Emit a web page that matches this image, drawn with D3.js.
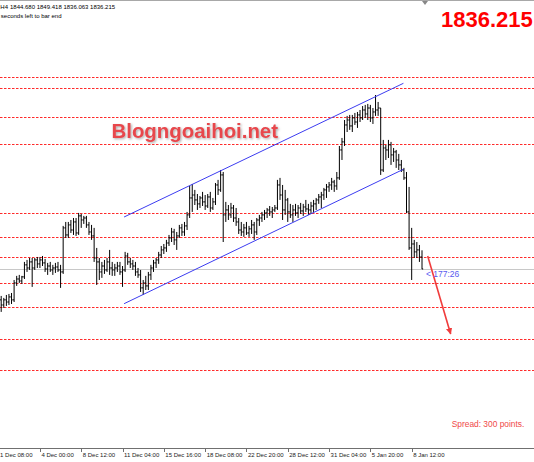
<!DOCTYPE html>
<html><head><meta charset="utf-8">
<script src="https://cdn.jsdelivr.net/npm/d3@7"></script>
<style>html,body{margin:0;padding:0;background:#fff;overflow:hidden}</style>
</head><body>
<svg id="c" width="534" height="462"></svg>
<script>
const open = [1814.3,1810.7,1814.3,1812.8,1816.4,1814.3,1826.3,1829.1,1827.7,1830.6,1839.1,1836.9,1841.2,1836.9,1842.6,1839.8,1842.6,1840.5,1836.2,1838.3,1835.5,1836.9,1837.6,1835.5,1834.1,1865.3,1860.3,1867.4,1863.8,1869.5,1861.7,1873.8,1870.9,1872.3,1867.4,1862.4,1859.6,1844.0,1841.2,1834.1,1838.3,1835.5,1841.2,1836.9,1835.5,1836.9,1838.3,1834.1,1835.5,1845.4,1841.2,1839.8,1838.3,1834.1,1832.0,1822.8,1826.3,1824.2,1832.0,1836.9,1840.5,1842.6,1846.1,1849.7,1851.1,1854.6,1858.2,1862.4,1856.8,1859.6,1865.3,1862.4,1866.7,1874.5,1886.5,1888.6,1885.1,1882.3,1886.5,1883.7,1880.8,1887.2,1879.4,1883.7,1895.7,1892.2,1902.8,1874.5,1878.0,1874.5,1879.4,1872.3,1869.5,1863.8,1862.4,1865.3,1861.7,1864.6,1867.4,1862.4,1870.9,1872.3,1874.5,1875.9,1878.0,1876.6,1878.0,1879.4,1895.7,1888.6,1878.0,1885.1,1876.6,1874.5,1878.0,1875.9,1879.4,1877.3,1880.1,1878.7,1878.0,1880.8,1882.3,1885.1,1887.2,1888.6,1892.2,1894.3,1895.7,1897.8,1895.0,1900.7,1920.5,1926.2,1938.2,1941.7,1937.5,1943.2,1940.3,1945.3,1943.2,1948.8,1946.0,1950.2,1943.2,1947.4,1948.8,1950.2,1906.3,1921.9,1920.5,1924.1,1917.0,1919.1,1913.4,1909.9,1906.3,1900.7,1876.6,1851.1,1853.9,1848.3,1849.7,1844.680];
const high = [1817.1,1815.7,1817.8,1818.5,1819.2,1828.4,1831.3,1832.0,1831.3,1841.2,1842.6,1844.0,1844.0,1844.0,1844.7,1844.7,1845.4,1843.3,1840.5,1841.2,1839.1,1840.5,1841.2,1839.1,1866.7,1869.5,1869.5,1870.9,1872.3,1872.3,1875.9,1875.2,1873.8,1873.8,1869.5,1867.4,1865.3,1851.1,1844.0,1841.2,1842.6,1844.0,1849.7,1841.2,1839.8,1841.2,1841.2,1838.3,1848.3,1847.6,1844.0,1842.6,1841.2,1836.9,1835.5,1828.4,1831.3,1834.1,1839.1,1842.6,1844.0,1848.3,1852.5,1853.9,1856.8,1860.3,1865.3,1864.6,1862.4,1867.4,1868.1,1869.5,1876.6,1895.0,1896.4,1892.2,1889.3,1887.9,1890.8,1888.6,1889.3,1890.8,1886.5,1897.1,1899.3,1906.3,1904.9,1883.7,1881.5,1883.0,1881.5,1879.4,1872.3,1869.5,1868.1,1869.5,1866.7,1870.9,1869.5,1872.3,1874.5,1876.6,1878.0,1879.4,1880.8,1880.1,1881.5,1899.3,1900.7,1895.7,1892.2,1886.5,1882.3,1881.5,1882.3,1881.5,1883.0,1882.3,1885.1,1882.3,1883.7,1885.1,1886.5,1889.3,1890.8,1893.6,1896.4,1897.8,1900.7,1899.3,1904.9,1923.3,1929.0,1941.7,1944.6,1945.3,1945.3,1946.7,1947.4,1948.8,1951.6,1952.4,1953.1,1952.4,1950.2,1959.4,1954.5,1950.2,1927.6,1924.1,1927.6,1926.2,1921.9,1920.5,1917.7,1913.4,1907.8,1904.9,1894.3,1865.3,1856.8,1855.3,1853.2,1849.418];
const low = [1805.8,1808.6,1810.0,1810.7,1811.4,1812.8,1824.2,1826.3,1825.6,1829.1,1834.1,1835.5,1823.5,1835.5,1836.9,1836.9,1838.3,1834.1,1832.0,1834.1,1832.0,1833.4,1834.1,1822.8,1832.7,1858.2,1858.2,1861.7,1860.3,1859.6,1860.3,1865.3,1868.1,1865.3,1860.3,1856.8,1841.2,1824.9,1828.4,1829.9,1832.7,1834.1,1832.0,1831.3,1831.3,1834.1,1832.0,1823.5,1834.1,1839.1,1836.9,1835.5,1831.3,1829.9,1819.9,1817.8,1821.3,1821.3,1828.4,1834.1,1836.9,1839.8,1844.0,1846.8,1848.3,1852.5,1855.3,1853.2,1849.7,1858.2,1859.6,1859.6,1863.8,1872.3,1876.6,1881.5,1878.0,1879.4,1880.8,1878.0,1879.4,1876.6,1878.0,1881.5,1888.6,1890.8,1855.3,1869.5,1870.9,1872.3,1869.5,1866.7,1861.0,1859.6,1858.9,1860.3,1858.9,1861.0,1856.8,1860.3,1866.7,1869.5,1870.9,1872.3,1873.8,1872.3,1876.6,1878.0,1885.1,1870.9,1874.5,1869.5,1872.3,1869.5,1873.8,1872.3,1875.2,1873.8,1876.6,1874.5,1875.2,1876.6,1878.0,1882.3,1879.4,1885.1,1886.5,1890.8,1892.2,1890.8,1892.2,1899.3,1913.4,1923.3,1933.2,1934.7,1933.2,1938.2,1936.1,1940.3,1941.7,1943.2,1941.7,1940.3,1938.9,1944.6,1944.6,1902.8,1904.9,1913.4,1914.8,1909.9,1912.0,1907.8,1906.3,1904.9,1899.3,1875.9,1849.7,1828.4,1844.0,1844.0,1841.2,1836.063];
const close = [1810.7,1814.3,1812.8,1816.4,1814.3,1826.3,1829.1,1827.7,1830.6,1839.1,1836.9,1841.2,1836.9,1842.6,1839.8,1842.6,1840.5,1836.2,1838.3,1835.5,1836.9,1837.6,1835.5,1834.1,1865.3,1860.3,1867.4,1863.8,1869.5,1861.7,1873.8,1870.9,1872.3,1867.4,1862.4,1859.6,1844.0,1841.2,1834.1,1838.3,1835.5,1841.2,1836.9,1835.5,1836.9,1838.3,1834.1,1835.5,1845.4,1841.2,1839.8,1838.3,1834.1,1832.0,1822.8,1826.3,1824.2,1832.0,1836.9,1840.5,1842.6,1846.1,1849.7,1851.1,1854.6,1858.2,1862.4,1856.8,1859.6,1865.3,1862.4,1866.7,1874.5,1886.5,1888.6,1885.1,1882.3,1886.5,1883.7,1880.8,1887.2,1879.4,1883.7,1895.7,1892.2,1902.8,1874.5,1878.0,1874.5,1879.4,1872.3,1869.5,1863.8,1862.4,1865.3,1861.7,1864.6,1867.4,1862.4,1870.9,1872.3,1874.5,1875.9,1878.0,1876.6,1878.0,1879.4,1895.7,1888.6,1878.0,1885.1,1876.6,1874.5,1878.0,1875.9,1879.4,1877.3,1880.1,1878.7,1878.0,1880.8,1882.3,1885.1,1887.2,1888.6,1892.2,1894.3,1895.7,1897.8,1895.0,1900.7,1920.5,1926.2,1938.2,1941.7,1937.5,1943.2,1940.3,1945.3,1943.2,1948.8,1946.0,1950.2,1943.2,1947.4,1948.8,1950.2,1906.3,1921.9,1920.5,1924.1,1917.0,1919.1,1913.4,1909.9,1906.3,1900.7,1876.6,1851.1,1853.9,1848.3,1849.7,1844.7,1836.215];

const tickBars = [-1, 15, 31, 47, 63, 79, 95, 111, 127, 143, 159];
const tickLabels = ["1 Dec 08:00","4 Dec 00:00","8 Dec 12:00","11 Dec 04:00","15 Dec 16:00","18 Dec 08:00","22 Dec 20:00","28 Dec 12:00","31 Dec 04:00","5 Jan 20:00","8 Jan 12:00"];

const levels = [1972.2,1964.4,1943.9,1924.7,1875.9,1858.9,1844.7,1826.3,1809.3,1786.6,1764.7];
const upperChannel = [[47.6,1873.0],[155.8,1967.7]];
const lowerChannel = [[47.6,1811.6],[155.8,1906.8]];
const forecastArrow = [[165.2,1845.4],[174.1,1790.2]];
const symbolTitle = "H4";
const timerText = "< 177:26";
const spreadText = "Spread: 300 points.";
const watermark = "Blogngoaihoi.net";

const W = 534, H = 462, axisY = 448;
const svg = d3.select("#c");
const defs = svg.append("defs");
const f = defs.append("filter").attr("id","sh").attr("x","-10%").attr("y","-30%").attr("width","120%").attr("height","160%");
f.append("feDropShadow").attr("dx",1.2).attr("dy",1.2).attr("stdDeviation",0.8).attr("flood-color","#777").attr("flood-opacity",0.6);
defs.append("marker").attr("id","ah").attr("viewBox","0 0 10 10").attr("refX",9).attr("refY",5)
  .attr("markerWidth",4).attr("markerHeight",4).attr("orient","auto")
  .append("path").attr("d","M0,0L10,5L0,10z").attr("fill","#f03c3c");

const n = close.length;
const x = d3.scaleLinear().domain([0, n-1]).range([1.2, 422]);
const y = d3.scaleLinear().domain([1709.4, 2026.7]).range([axisY, 0]);

svg.append("rect").attr("width",W).attr("height",H).attr("fill","#fff");
svg.append("line").attr("x1",0).attr("x2",W).attr("y1",0.5).attr("y2",0.5).attr("stroke","#a8a8a8");
svg.append("path").attr("d","M422,1L428,1L425,5z").attr("fill","#888");

// levels
svg.append("g").selectAll("line").data(levels).join("line")
  .attr("x1",0).attr("x2",W).attr("y1",d=>Math.round(y(d))+0.5).attr("y2",d=>Math.round(y(d))+0.5)
  .attr("stroke","#ff2a2a").attr("stroke-width",1).attr("stroke-dasharray","2.5,1.5");

// current price line
const last = close[n-1];
svg.append("line").attr("x1",0).attr("x2",W).attr("y1",Math.round(y(last))+0.5).attr("y2",Math.round(y(last))+0.5)
  .attr("stroke","#c8c8c8");

// bars
const idx = d3.range(n);
const g = svg.append("g").attr("stroke","#000").attr("stroke-width",1);
g.selectAll("path").data(idx).join("path")
  .attr("fill","none")
  .attr("d", i => {
    const xi = x(i);
    return `M${xi},${y(high[i])}V${y(low[i])}M${xi-1.2},${y(open[i])}H${xi}M${xi},${y(close[i])}H${xi+1.2}`;
  });

// channel lines
const lineGen = d3.line().x(d=>x(d[0])).y(d=>y(d[1]));
[upperChannel, lowerChannel].forEach(c => svg.append("path").attr("d", lineGen(c))
  .attr("stroke","#3c3cf0").attr("stroke-width",1).attr("fill","none"));

// forecast arrow
svg.append("path").attr("d", lineGen(forecastArrow)).attr("stroke","#f03c3c").attr("stroke-width",1.6)
  .attr("fill","none").attr("marker-end","url(#ah)");

// axis
svg.append("line").attr("x1",0).attr("x2",W).attr("y1",axisY+0.5).attr("y2",axisY+0.5).attr("stroke","#707070");
const ax = svg.append("g");
ax.selectAll("line").data(tickBars).join("line")
  .attr("x1",d=>Math.round(x(d))+0.5).attr("x2",d=>Math.round(x(d))+0.5)
  .attr("y1",axisY).attr("y2",axisY+4).attr("stroke","#707070");
ax.selectAll("text").data(tickBars).join("text")
  .attr("x",d=>x(d)+1.5).attr("y",457)
  .attr("font-family","Liberation Sans, Arial, sans-serif").attr("font-size",6).attr("fill","#222")
  .text((d,i)=>tickLabels[i]);

// header
const hdrFont = "Liberation Sans, Arial, sans-serif";
svg.append("text").attr("x",0.3).attr("y",9).attr("font-family",hdrFont).attr("font-size",6).attr("fill","#000").text(symbolTitle);
const fmt = d3.format(".3f");
svg.append("text").attr("x",10).attr("y",9).attr("font-family",hdrFont).attr("font-size",6).attr("fill","#000")
  .text(`${fmt(open[n-1])} ${fmt(high[n-1])} ${fmt(low[n-1])} ${fmt(close[n-1])}`);
svg.append("text").attr("x",0.8).attr("y",18).attr("font-family",hdrFont).attr("font-size",6).attr("fill","#000").text("seconds left to bar end");

// big price
svg.append("text").attr("x",441).attr("y",26.5).attr("font-family",hdrFont).attr("font-weight","bold")
  .attr("font-size",22).attr("fill","#ff0000").text(fmt(close[n-1]));

// watermark
svg.append("text").attr("x",111.5).attr("y",138).attr("font-family",hdrFont).attr("font-weight","bold")
  .attr("font-size",20.4).attr("fill","#e8464c").attr("filter","url(#sh)").text(watermark);

// timer
svg.append("text").attr("x",426).attr("y",277).attr("font-family",hdrFont).attr("font-size",8.5)
  .attr("fill","#5a5af0").text(timerText);

// spread
svg.append("text").attr("x",451.7).attr("y",426.7).attr("font-family",hdrFont).attr("font-size",8.4)
  .attr("fill","#f04848").text(spreadText);
</script>
</body></html>
